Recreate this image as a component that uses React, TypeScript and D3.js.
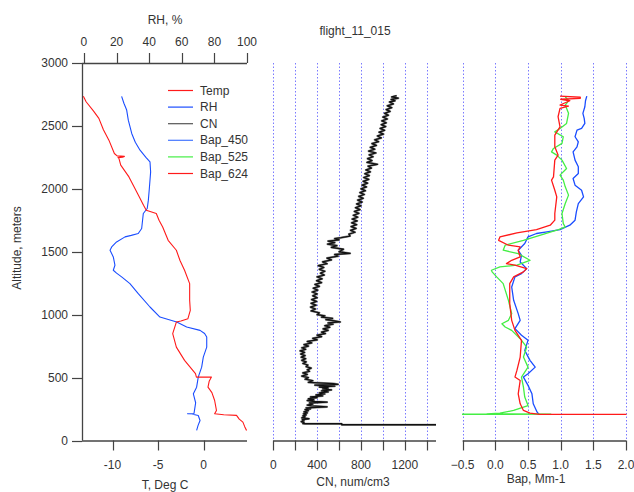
import React from 'react';
import * as d3 from 'd3';

// flight_11_015 vertical profiles
// each profile row: [altitude (m), value]

const altTicks = [0, 500, 1000, 1500, 2000, 2500, 3000];
const tempTicks = [-10, -5, 0];
const rhTicks = [0, 20, 40, 60, 80, 100];
const cnTicks = [0, 200, 400, 600, 800, 1000, 1200, 1400];
const cnLabels = [0, 400, 800, 1200];
const bapTicks = [-0.5, 0, 0.5, 1, 1.5, 2];

const tempProfile: [number, number][] = [
  [2735, -13.2], [2692, -12.9], [2620, -12.1], [2560, -11.5], [2470, -11.0], [2387, -10.4],
  [2281, -9.8], [2262, -9.5], [2258, -8.7], [2252, -8.9], [2248, -9.4], [2242, -9.3],
  [2188, -9.1], [2095, -8.2], [2010, -7.6], [1936, -7.06], [1870, -6.6], [1830, -6.3],
  [1804, -5.2], [1750, -4.9], [1697, -4.5], [1591, -3.9], [1512, -3.0], [1430, -2.6],
  [1353, -2.1], [1247, -1.54], [1114, -1.54], [1034, -1.47], [968, -1.73], [950, -2.5],
  [941, -3.0], [849, -3.4], [742, -3.0], [637, -2.1], [531, -0.9], [504, -0.8], [504, 0.85],
  [470, 0.6], [424, 0.47], [380, 0.9], [318, 1.2], [239, 1.4], [212, 1.2], [205, 2.2],
  [200, 3.6], [170, 3.9], [146, 4.3], [110, 4.5], [80, 4.7],
];

const rhProfile: [number, number][] = [
  [2735, 23.1], [2680, 24.5], [2626, 26.2], [2546, 27.2], [2440, 29.3], [2370, 31.5],
  [2307, 34.4], [2250, 38], [2215, 40.5], [2135, 40.9], [2003, 40.1], [1910, 39.5],
  [1844, 38.8], [1804, 36.4], [1685, 35.4], [1645, 33.3], [1630, 29], [1618, 25.2],
  [1578, 20.0], [1538, 17.0], [1512, 16.0], [1459, 18.0], [1393, 19.0], [1353, 18.0],
  [1330, 20], [1300, 23.1], [1247, 28.2], [1167, 33.3], [1061, 40.5], [981, 46.6],
  [941, 56.9], [902, 63.0], [875, 71.2], [850, 74], [822, 75.3], [742, 75.3], [663, 73.2],
  [583, 72.2], [504, 70.1], [424, 69.1], [371, 67.1], [300, 68.5], [265, 68.1], [215, 67.5],
  [212, 63.5], [210, 66.1], [199, 70.1], [159, 71.2], [120, 70], [80, 69.1],
];

const cnProfile: [number, number][] = [
  [2740, 1125], [2730, 1080], [2720, 1140], [2710, 1075], [2700, 1110], [2690, 1060],
  [2675, 1095], [2660, 1040], [2645, 1080], [2630, 1030], [2615, 1065], [2600, 1015],
  [2585, 1050], [2570, 1000], [2555, 1040], [2540, 990], [2525, 1030], [2510, 985],
  [2495, 1025], [2480, 975], [2465, 1015], [2450, 965], [2435, 1005], [2420, 950],
  [2405, 985], [2390, 925], [2375, 960], [2360, 900], [2345, 940], [2330, 885],
  [2315, 925], [2300, 870], [2285, 935], [2270, 875], [2255, 910], [2240, 860],
  [2225, 900], [2210, 855], [2195, 950], [2180, 865], [2165, 895], [2150, 845],
  [2135, 885], [2120, 835], [2105, 875], [2090, 825], [2075, 870], [2060, 820],
  [2045, 860], [2030, 810], [2015, 850], [2000, 800], [1985, 840], [1970, 790],
  [1955, 830], [1940, 780], [1925, 820], [1910, 770], [1895, 810], [1880, 760],
  [1865, 800], [1850, 750], [1835, 790], [1820, 740], [1805, 780], [1790, 730],
  [1775, 770], [1760, 720], [1745, 765], [1730, 715], [1715, 760], [1700, 710],
  [1685, 755], [1670, 705], [1655, 745], [1640, 690], [1625, 700], [1612, 620],
  [1605, 560], [1595, 600], [1585, 500], [1572, 560], [1560, 495], [1548, 580],
  [1535, 530], [1520, 640], [1500, 600], [1487, 700], [1478, 560], [1465, 590],
  [1450, 490], [1435, 530], [1420, 450], [1405, 490], [1390, 410], [1375, 460],
  [1360, 420], [1345, 470], [1330, 430], [1315, 465], [1300, 400], [1285, 445],
  [1270, 395], [1255, 440], [1240, 380], [1225, 420], [1210, 365], [1195, 405],
  [1180, 355], [1165, 400], [1150, 360], [1135, 400], [1120, 350], [1105, 395],
  [1090, 345], [1075, 390], [1060, 340], [1045, 385], [1030, 345], [1015, 420],
  [1000, 400], [990, 470], [980, 440], [970, 540], [960, 480], [950, 560], [942, 610],
  [935, 500], [925, 545], [912, 470], [900, 515], [887, 455], [875, 500], [862, 440],
  [850, 475], [837, 400], [825, 440], [812, 360], [800, 400], [787, 310], [775, 350],
  [762, 280], [750, 320], [737, 260], [725, 295], [712, 245], [700, 285], [687, 250],
  [675, 290], [662, 255], [650, 295], [637, 260], [625, 300], [612, 270], [600, 315],
  [587, 300], [575, 345], [562, 310], [550, 330], [537, 270], [525, 310], [512, 260],
  [500, 320], [487, 290], [475, 360], [462, 320], [452, 550], [446, 590], [440, 380],
  [432, 560], [425, 420], [418, 500], [410, 450], [402, 530], [395, 440], [387, 500],
  [378, 420], [370, 470], [362, 390], [355, 450], [347, 340], [340, 400], [332, 320],
  [325, 370], [318, 310], [310, 380], [305, 490], [298, 330], [290, 360], [282, 310],
  [275, 350], [268, 490], [260, 300], [252, 340], [245, 290], [237, 320], [228, 280],
  [220, 310], [212, 275], [204, 300], [196, 270], [188, 290], [180, 260], [173, 325],
  [166, 265], [158, 280], [150, 255], [142, 280], [135, 270], [133, 290], [133, 624],
  [125, 624], [125, 3000],
];

const bap450: [number, number][] = [
  [2737, 1.40], [2700, 1.38], [2652, 1.37], [2600, 1.34], [2560, 1.36], [2520, 1.37],
  [2480, 1.32], [2467, 1.25], [2414, 1.22], [2374, 1.27], [2334, 1.25], [2294, 1.19],
  [2228, 1.22], [2175, 1.27], [2122, 1.27], [2082, 1.19], [2029, 1.22], [1989, 1.32],
  [1936, 1.35], [1883, 1.27], [1817, 1.24], [1751, 1.22], [1711, 1.14], [1676, 0.99],
  [1658, 0.79], [1645, 0.63], [1618, 0.50], [1565, 0.45], [1512, 0.35], [1472, 0.40],
  [1419, 0.38], [1366, 0.48], [1326, 0.40], [1300, 0.30], [1220, 0.25], [1114, 0.28],
  [1008, 0.35], [955, 0.38], [889, 0.30], [836, 0.40], [796, 0.50], [716, 0.45],
  [637, 0.53], [583, 0.61], [531, 0.50], [504, 0.43], [438, 0.50], [371, 0.56],
  [292, 0.58], [225, 0.64], [207, 0.67],
];

const bap525: [number, number][] = [
  [2732, 1.07], [2700, 1.12], [2666, 1.07], [2600, 1.12], [2520, 1.09], [2480, 0.99],
  [2453, 0.91], [2414, 1.04], [2361, 1.02], [2321, 0.89], [2294, 0.86], [2268, 0.94],
  [2228, 1.02], [2162, 1.09], [2109, 0.99], [2069, 1.04], [2016, 1.07], [1950, 1.12],
  [1883, 1.07], [1804, 1.02], [1724, 1.04], [1697, 1.07], [1671, 0.94], [1631, 0.68],
  [1591, 0.43], [1552, 0.15], [1512, 0.12], [1485, 0.35], [1432, 0.53], [1393, 0.33],
  [1379, 0.07], [1353, -0.06], [1340, -0.05], [1300, 0.02], [1247, 0.12], [1114, 0.20],
  [1008, 0.25], [955, 0.20], [928, 0.10], [902, 0.15], [875, 0.25], [809, 0.38],
  [742, 0.48], [663, 0.43], [583, 0.50], [504, 0.40], [424, 0.43], [345, 0.45],
  [278, 0.50], [265, 0.43], [239, 0.28], [217, 0.07], [212, -0.13], [209, 0.85],
  [207, -5],
];

const bap624: [number, number][] = [
  [2737, 0.99], [2728, 1.30], [2719, 1.30], [2712, 1.0], [2700, 1.14], [2666, 0.99],
  [2658, 1.12], [2640, 0.99], [2573, 0.96], [2493, 0.99], [2427, 0.91], [2334, 0.91],
  [2268, 0.96], [2228, 0.91], [2095, 0.89], [2069, 0.86], [1989, 0.91], [1936, 0.94],
  [1804, 0.91], [1751, 0.91], [1711, 0.84], [1676, 0.63], [1650, 0.33], [1618, 0.07],
  [1591, 0.05], [1552, 0.20], [1538, 0.38], [1512, 0.35], [1459, 0.38], [1432, 0.25],
  [1406, 0.17], [1393, 0.30], [1366, 0.48], [1340, 0.43], [1300, 0.28], [1247, 0.22],
  [1088, 0.22], [955, 0.25], [875, 0.30], [796, 0.40], [663, 0.38], [557, 0.33],
  [504, 0.30], [477, 0.38], [371, 0.35], [292, 0.38], [239, 0.43], [217, 0.53],
  [208, 0.68], [207, 5],
];

const legendNames = ['Temp', 'RH', 'CN', 'Bap_450', 'Bap_525', 'Bap_624'];
const legendColors = ['#ff1a1a', '#1a4dff', '#555555', '#4477ff', '#44ee44', '#ff1a1a'];

const FONT = 'Liberation Sans, Arial, sans-serif';
const TXT = '#333';
const AX = '#444';
const GRID = '#7a7aff';

export default function App() {
  const top = 63, bottom = 440.5;
  const y = d3.scaleLinear().domain([0, 3000]).range([bottom, top]);
  const xT = d3.scaleLinear().domain([-13.35, 4.75]).range([82, 247]);
  const xRH = d3.scaleLinear().domain([-1.2, 100]).range([82, 247]);
  const xCN = d3.scaleLinear().domain([0, 1484]).range([273.3, 436]);
  const xBap = d3.scaleLinear().domain([-0.5, 2]).range([462.7, 626]);

  const path = (sx: d3.ScaleLinear<number, number>) =>
    d3.line<[number, number]>().x(d => sx(d[1])).y(d => y(d[0]));

  const tickText = { fontFamily: FONT, fontSize: 12, fill: TXT } as const;

  // bottom axis helper
  const bottomAxis = (sx: d3.ScaleLinear<number, number>, ticks: number[], labels: number[], fmt: (v: number) => string) => {
    const [r0, r1] = sx.range();
    return (
      <g>
        <line x1={r0} x2={r1} y1={bottom + 0.5} y2={bottom + 0.5} stroke={AX} strokeWidth={1.3} />
        {ticks.map(t => (
          <line key={t} x1={Math.round(sx(t)) + 0.5} x2={Math.round(sx(t)) + 0.5} y1={bottom} y2={bottom + 10} stroke={AX} strokeWidth={1.2} />
        ))}
        {labels.map(t => (
          <text key={t} x={sx(t)} y={bottom + 28} textAnchor="middle" {...tickText}>{fmt(t)}</text>
        ))}
      </g>
    );
  };

  const grid = (sx: d3.ScaleLinear<number, number>, ticks: number[]) =>
    ticks.map(t => (
      <line key={t} x1={Math.round(sx(t)) + 0.5} x2={Math.round(sx(t)) + 0.5} y1={top} y2={bottom}
        stroke={GRID} strokeWidth={1} strokeDasharray="1.5,2" />
    ));

  return (
    <svg width={634} height={492} style={{ position: 'absolute', left: 0, top: 0, background: '#fff' }}>
      <defs>
        <clipPath id="clipL"><rect x={82} y={top - 5} width={165} height={bottom - top + 5} /></clipPath>
        <clipPath id="clipC"><rect x={273} y={top - 5} width={163} height={bottom - top + 5} /></clipPath>
        <clipPath id="clipB"><rect x={462} y={top - 5} width={164.5} height={bottom - top + 5} /></clipPath>
      </defs>

      {/* titles */}
      <text x={355} y={35} textAnchor="middle" {...tickText}>flight_11_015</text>
      <text x={165} y={24} textAnchor="middle" {...tickText}>RH, %</text>
      <text transform={`translate(21,248) rotate(-90)`} textAnchor="middle" {...tickText}>Altitude, meters</text>
      <text x={165} y={489} textAnchor="middle" {...tickText}>T, Deg C</text>
      <text x={353} y={486} textAnchor="middle" {...tickText}>CN, num/cm3</text>
      <text x={536} y={483} textAnchor="middle" {...tickText}>Bap, Mm-1</text>

      {/* left panel: altitude axis */}
      <line x1={82.5} x2={82.5} y1={top} y2={bottom} stroke={AX} strokeWidth={1.3} />
      {altTicks.map(t => (
        <g key={t}>
          <line x1={72} x2={82} y1={Math.round(y(t)) + 0.5} y2={Math.round(y(t)) + 0.5} stroke={AX} strokeWidth={1.2} />
          <text x={68} y={y(t) + 4} textAnchor="end" {...tickText}>{t}</text>
        </g>
      ))}
      {/* top RH axis */}
      <line x1={82} x2={247} y1={top + 0.5} y2={top + 0.5} stroke={AX} strokeWidth={1.3} />
      {rhTicks.map(t => (
        <g key={t}>
          <line x1={Math.round(xRH(t)) + 0.5} x2={Math.round(xRH(t)) + 0.5} y1={top - 10} y2={top} stroke={AX} strokeWidth={1.2} />
          <text x={xRH(t)} y={top - 17} textAnchor="middle" {...tickText}>{t}</text>
        </g>
      ))}
      {bottomAxis(xT, tempTicks, tempTicks, v => String(v))}
      <g clipPath="url(#clipL)" fill="none" strokeWidth={1.1} strokeLinejoin="round">
        <path d={path(xRH)(rhProfile) ?? ''} stroke="#1a4dff" />
        <path d={path(xT)(tempProfile) ?? ''} stroke="#ff1a1a" />
      </g>

      {/* legend */}
      {legendNames.map((n, i) => (
        <g key={n} transform={`translate(0,${90 + i * 16.6})`}>
          <line x1={168} x2={193} y1={0.5} y2={0.5} stroke={legendColors[i]} strokeWidth={1.2} />
          <text x={200} y={4.5} {...tickText}>{n}</text>
        </g>
      ))}

      {/* middle panel: CN */}
      {grid(xCN, cnTicks)}
      {bottomAxis(xCN, cnTicks, cnLabels, v => String(v))}
      <g clipPath="url(#clipC)" fill="none" strokeLinejoin="round">
        <path d={path(xCN)(cnProfile) ?? ''} stroke="#8a8a8a" strokeWidth={2.2} />
        <path d={path(xCN)(cnProfile) ?? ''} stroke="#111" strokeWidth={1.3} />
      </g>

      {/* right panel: Bap */}
      {grid(xBap, bapTicks)}
      {bottomAxis(xBap, bapTicks, bapTicks, v => d3.format('.1f')(v))}
      <g clipPath="url(#clipB)" fill="none" strokeWidth={1.3} strokeLinejoin="round">
        <path d={path(xBap)(bap450) ?? ''} stroke="#1a4dff" />
        <path d={path(xBap)(bap525) ?? ''} stroke="#44ee44" />
        <path d={path(xBap)(bap624) ?? ''} stroke="#ff1a1a" />
      </g>
    </svg>
  );
}
